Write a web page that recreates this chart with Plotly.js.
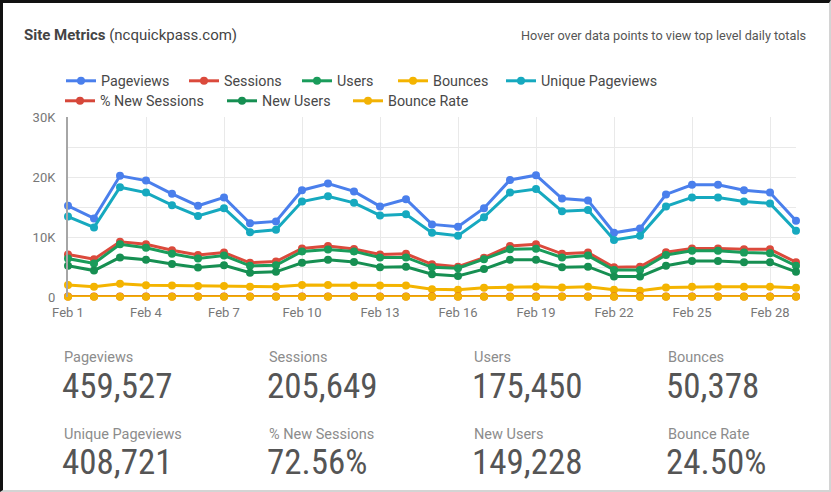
<!DOCTYPE html>
<html>
<head>
<meta charset="utf-8">
<script src="https://cdn.plot.ly/plotly-3.0.1.min.js"></script>
<style>
  html, body { margin: 0; padding: 0; background: #fff; }
  #wrap { position: relative; width: 831px; height: 492px; overflow: hidden; }
  #chart { position: absolute; left: 0; top: 0; width: 831px; height: 492px; }
  #frame { position: absolute; left: 0; top: 0; width: 831px; height: 492px; box-sizing: border-box;
           border-left: 3px solid #111; border-top: 3px solid #111;
           border-right: 2px solid #d4d4d4; border-bottom: 2px solid #d4d4d4; pointer-events: none; }
</style>
</head>
<body>
<div id="wrap"><div id="chart"></div><div id="frame"></div></div>
<script>
// ---- data ----
const dates = ['2016-02-01','2016-02-02','2016-02-03','2016-02-04','2016-02-05','2016-02-06','2016-02-07',
  '2016-02-08','2016-02-09','2016-02-10','2016-02-11','2016-02-12','2016-02-13','2016-02-14',
  '2016-02-15','2016-02-16','2016-02-17','2016-02-18','2016-02-19','2016-02-20','2016-02-21',
  '2016-02-22','2016-02-23','2016-02-24','2016-02-25','2016-02-26','2016-02-27','2016-02-28','2016-02-29'];

const pageviews = [15200,13100,20200,19400,17200,15200,16600,12300,12600,17800,18900,17600,15100,16300,
  12100,11700,14800,19500,20300,16400,16100,10700,11400,17100,18700,18700,17800,17400,12700];
const uniquePageviews = [13400,11600,18300,17400,15300,13500,14800,10800,11200,15900,16800,15700,13600,13800,
  10700,10200,13300,17400,18000,14300,14500,9500,10200,15100,16600,16600,15900,15600,11050];
const sessions = [7100,6300,9200,8800,7800,7000,7400,5700,5900,8100,8500,8000,7100,7200,
  5450,5050,6550,8500,8800,7200,7400,4950,5050,7450,8100,8100,7950,7950,5800];
const users = [6400,5600,8800,8200,7200,6400,6900,5200,5300,7600,7900,7600,6600,6600,
  4950,4800,6300,7950,8050,6600,6900,4500,4500,7000,7700,7700,7400,7300,5200];
const newUsers = [5200,4400,6600,6200,5500,4900,5300,4050,4200,5700,6200,5850,4950,5050,
  3800,3500,4650,6200,6200,4950,5050,3400,3400,5200,6000,6000,5800,5800,4200];
const bounces = [2000,1700,2200,1950,1900,1850,1850,1700,1700,2000,2000,1900,1900,1900,
  1300,1200,1550,1600,1700,1600,1700,1200,1050,1600,1700,1700,1700,1700,1550];
const pctNewSessions = [73.2,69.8,71.7,70.5,70.5,70.0,71.6,71.1,71.2,70.4,72.9,73.1,69.7,70.1,
  69.7,69.3,71.0,72.9,70.5,68.8,68.2,68.7,67.3,69.8,74.1,74.1,73.0,73.0,72.4];
const bounceRate = [28.2,27.0,23.9,22.2,24.4,26.4,25.0,29.8,28.8,24.7,23.5,23.8,26.8,26.4,
  23.9,23.8,23.7,18.8,19.3,22.2,23.0,24.2,20.8,21.5,21.0,21.0,21.4,21.4,26.7];

const xTickVals = ['2016-02-01','2016-02-04','2016-02-07','2016-02-10','2016-02-13','2016-02-16',
  '2016-02-19','2016-02-22','2016-02-25','2016-02-28'];
const xTickText = ['Feb 1','Feb 4','Feb 7','Feb 10','Feb 13','Feb 16','Feb 19','Feb 22','Feb 25','Feb 28'];
const yTickVals = [0,5000,10000,15000,20000,25000,30000];
const yTickText = ['0','','10K','','20K','','30K'];

const statLabels = ['Pageviews','Sessions','Users','Bounces','Unique Pageviews','% New Sessions','New Users','Bounce Rate'];
const statValues = ['459,527','205,649','175,450','50,378','408,721','72.56%','149,228','24.50%'];

// ---- styling ----
const seriesNames = ['Pageviews','Sessions','Users','Bounces','Unique Pageviews','% New Sessions','New Users','Bounce Rate'];
const seriesData = [pageviews, sessions, users, bounces, uniquePageviews, pctNewSessions, newUsers, bounceRate];
const seriesColors = ['#4a7fec','#db4a3c','#1a9c5b','#f4b400','#16a9bf','#d6473a','#168f52','#f2b205'];

// plot area in page pixels
const L = 68, R = 796, T = 117, B = 297;
const px = x => (x - L) / (R - L);
const py = y => (B - y) / (B - T);

// legend entry placement (page pixels): left edge of each entry, top of its row
const legendLeft = [61, 184, 297, 393, 501, 60, 222, 348];
const legendTop = [65, 65, 65, 65, 65, 85, 85, 85];

const traces = seriesNames.map((n, i) => ({
  type: 'scatter', mode: 'lines+markers', name: n, x: dates, y: seriesData[i],
  legend: i === 0 ? 'legend' : 'legend' + (i + 1),
  line: {color: seriesColors[i], width: 3},
  marker: {color: seriesColors[i], size: 8},
  cliponaxis: false, hoverinfo: 'x+y+name'
}));

const annotations = [
  {text: '<b>Site Metrics</b> (ncquickpass.com)', x: px(22), y: py(35), xref: 'paper', yref: 'paper',
   xanchor: 'left', yanchor: 'middle', showarrow: false, font: {family: 'Roboto, Arial', size: 15, color: '#444'}},
  {text: 'Hover over data points to view top level daily totals', x: px(808), y: py(35), xref: 'paper', yref: 'paper',
   xanchor: 'right', yanchor: 'middle', showarrow: false, font: {family: 'Roboto, Arial', size: 12.7, color: '#555'}}
];
const colX = [62, 267, 472, 666];
const rowLabelY = [357, 434];
const rowValueY = [386, 462];
statLabels.forEach((lab, i) => {
  const c = i % 4, r = Math.floor(i / 4);
  annotations.push({text: lab, x: px(colX[c]), y: py(rowLabelY[r]), xref: 'paper', yref: 'paper',
    xanchor: 'left', yanchor: 'middle', showarrow: false,
    font: {family: 'Roboto, Arial', size: 14.5, color: '#8c8c8c'}});
  annotations.push({text: statValues[i], x: px(colX[c] - 2), y: py(rowValueY[r]), xref: 'paper', yref: 'paper',
    xanchor: 'left', yanchor: 'middle', showarrow: false,
    font: {family: '"Liberation Sans Narrow", "Roboto Condensed", Arial', size: 35, color: '#555'}});
});

const legendFont = {family: 'Roboto, Arial', size: 14.3, color: '#484848'};
const layout = {
  width: 831, height: 492,
  margin: {l: L, r: 831 - R, t: T, b: 492 - B, pad: 0},
  paper_bgcolor: '#fff', plot_bgcolor: '#fff',
  font: {family: 'Roboto, Arial', color: '#444'},
  showlegend: true,
  xaxis: {type: 'date', range: ['2016-02-01', '2016-02-29'], tickmode: 'array', tickvals: xTickVals, ticktext: xTickText,
          showgrid: true, gridcolor: '#e9e9e9', gridwidth: 1, zeroline: false, showline: false, ticks: '',
          tickfont: {family: 'Roboto, Arial', size: 13, color: '#777'}, ticklabelstandoff: 6, fixedrange: true},
  yaxis: {range: [0, 30000], tickmode: 'array', tickvals: yTickVals, ticktext: yTickText,
          showgrid: true, gridcolor: '#e9e9e9', gridwidth: 1, zeroline: false,
          showline: true, linecolor: '#a6a6a6', linewidth: 2, ticks: '',
          tickfont: {family: 'Roboto, Arial', size: 13, color: '#777'}, ticklabelstandoff: 8, fixedrange: true},
  annotations: annotations,
  hovermode: 'closest'
};
seriesNames.forEach((n, i) => {
  const key = i === 0 ? 'legend' : 'legend' + (i + 1);
  layout[key] = {orientation: 'h', x: px(legendLeft[i]), xanchor: 'left', y: py(legendTop[i]), yanchor: 'top',
                 font: legendFont, bgcolor: 'rgba(0,0,0,0)'};
});

Plotly.newPlot('chart', traces, layout, {displayModeBar: false});
</script>
</body>
</html>
